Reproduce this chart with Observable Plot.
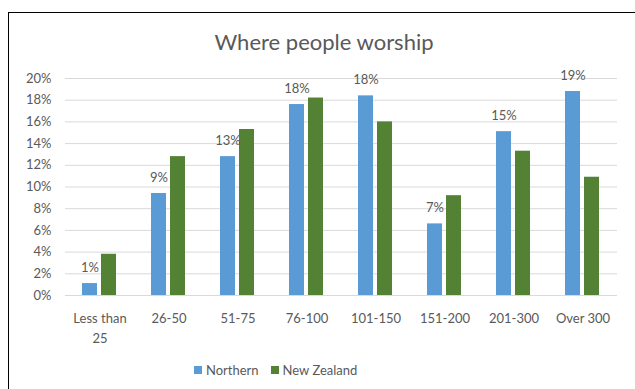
<!DOCTYPE html>
<html>
<head>
<meta charset="utf-8">
<script src="https://cdn.jsdelivr.net/npm/d3@7"></script>
<script src="https://cdn.jsdelivr.net/npm/@observablehq/plot@0.6"></script>
<style>
  html, body { margin: 0; padding: 0; background: #fff; overflow: hidden; width: 635px; height: 389px; }
  body { position: relative; font-family: Lato, "Open Sans", sans-serif; color: #595959; }
  .frame { position: absolute; left: 8px; top: 12px; width: 700px; height: 500px;
           border-left: 1px solid #000; border-top: 1px solid #000; }
  .title { position: absolute; left: 0; top: 31px; width: 648px; text-align: center;
           font-size: 22px; line-height: 22px; color: #595959; }
  #chart { position: absolute; left: 0; top: 60px; }
  .legend { position: absolute; left: 194px; top: 363px; display: flex; align-items: center;
            font-size: 13px; line-height: 14px; color: #595959; }
  .legend .item { display: flex; align-items: center; margin-right: 12px; }
  .legend .swatch { width: 8px; height: 8px; margin-right: 4px; }
</style>
</head>
<body>
<div class="frame"></div>
<div class="title">Where people worship</div>
<div id="chart"></div>
<div class="legend" id="legend"></div>
<script>
// Congregation size bands
const categories = ["Less than 25", "26-50", "51-75", "76-100", "101-150", "151-200", "201-300", "Over 300"];
// Share of worshippers in each band
const northern   = [0.011, 0.094, 0.128, 0.176, 0.184, 0.066, 0.151, 0.188];
const newZealand = [0.038, 0.128, 0.153, 0.182, 0.160, 0.092, 0.133, 0.109];
const seriesNames  = ["Northern", "New Zealand"];
const seriesColors = ["#5b9bd5", "#548235"];
const yTicks = [0, 0.02, 0.04, 0.06, 0.08, 0.10, 0.12, 0.14, 0.16, 0.18, 0.20];

const seriesValues = [northern, newZealand];
const table = [];
categories.forEach((c, i) => {
  seriesNames.forEach((s, j) => table.push({category: c, series: s, value: seriesValues[j][i]}));
});

const pct = d3.format(".0%");

const chart = Plot.plot({
  width: 635,
  height: 290,
  marginLeft: 62,
  marginRight: 15,
  marginTop: 18,
  marginBottom: 55,
  style: {fontFamily: "Lato, 'Open Sans', sans-serif", fontSize: "13px", color: "#595959", background: "transparent"},
  fx: {domain: categories, paddingInner: 0, paddingOuter: 0, label: null},
  x: {domain: seriesNames, paddingInner: 0.2, paddingOuter: 0.84, axis: null},
  y: {domain: [0, 0.2], label: null},
  color: {domain: seriesNames, range: seriesColors},
  marks: [
    Plot.gridY(yTicks, {stroke: "#d9d9d9", strokeOpacity: 1}),
    Plot.axisY(yTicks, {tickSize: 0, tickPadding: 14, tickFormat: pct, label: null, fill: "#595959"}),
    Plot.axisFx({
      anchor: "bottom", tickSize: 0, tickPadding: 14, lineHeight: 1.5, label: null, fill: "#595959",
      tickFormat: d => d === "Less than 25" ? "Less than\n25" : d
    }),
    Plot.barY(table, {fx: "category", x: "series", y: "value", fill: "series"}),
    Plot.text(table.filter(d => d.series === "Northern"), {
      fx: "category", x: "series", y: "value", text: d => pct(d.value),
      dy: -16, fill: "#595959", fontSize: 13
    })
  ]
});
document.getElementById("chart").appendChild(chart);

// Legend built from the series list
const legend = document.getElementById("legend");
seriesNames.forEach((s, i) => {
  const item = document.createElement("div");
  item.className = "item";
  const sw = document.createElement("span");
  sw.className = "swatch";
  sw.style.background = seriesColors[i];
  const label = document.createElement("span");
  label.textContent = s;
  item.appendChild(sw);
  item.appendChild(label);
  legend.appendChild(item);
});
</script>
</body>
</html>
